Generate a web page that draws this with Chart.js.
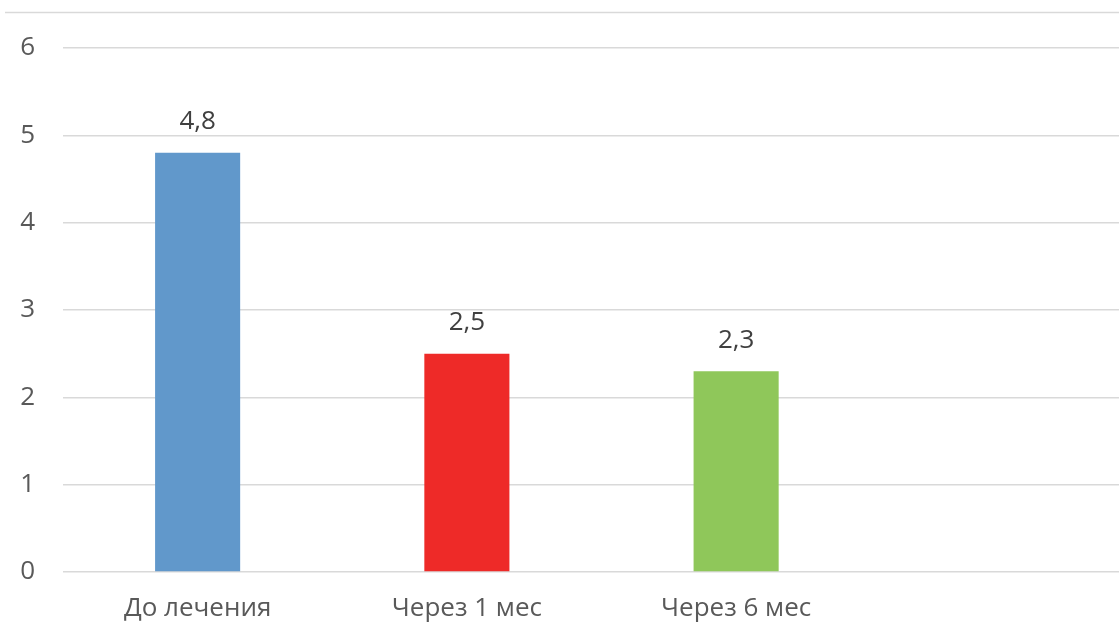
<!DOCTYPE html>
<html>
<head>
<meta charset="utf-8">
<script src="https://cdn.jsdelivr.net/npm/chart.js@4/dist/chart.umd.min.js"></script>
<style>
  html, body { margin: 0; padding: 0; background: #ffffff; overflow: hidden; }
  #wrap { position: relative; width: 1140px; height: 623px; }
</style>
</head>
<body>
<div id="wrap"><canvas id="chart"></canvas></div>
<script>
// Категории и значения
const categories = ['До лечения', 'Через 1 мес', 'Через 6 мес', ''];
const values = [4.8, 2.5, 2.3, null];
const barColors = ['#6198CB', '#EE2A28', '#8FC75A', '#ffffff'];
const yTicks = [0, 1, 2, 3, 4, 5, 6];

const FONT = "'Open Sans', 'Noto Sans', sans-serif";

// Подписи значений над столбцами (с запятой как десятичным разделителем)
const valueLabels = {
  id: 'valueLabels',
  afterDatasetsDraw(chart) {
    const ctx = chart.ctx;
    const meta = chart.getDatasetMeta(0);
    ctx.save();
    ctx.fillStyle = '#404040';
    ctx.font = '26px ' + FONT;
    ctx.textAlign = 'center';
    ctx.textBaseline = 'middle';
    meta.data.forEach((bar, i) => {
      const v = values[i];
      if (v === null || v === undefined) return;
      ctx.fillText(String(v).replace('.', ','), bar.x, bar.y - 31);
    });
    ctx.restore();
  }
};

// Верхняя рамка области диаграммы
const topFrame = {
  id: 'topFrame',
  beforeDraw(chart) {
    const ctx = chart.ctx;
    ctx.save();
    ctx.strokeStyle = '#d9d9d9';
    ctx.lineWidth = 1.5;
    ctx.beginPath();
    ctx.moveTo(5, 12.5);
    ctx.lineTo(chart.width, 12.5);
    ctx.stroke();
    ctx.restore();
  }
};

new Chart(document.getElementById('chart'), {
  type: 'bar',
  data: {
    labels: categories,
    datasets: [{
      data: values,
      backgroundColor: barColors,
      borderWidth: 0,
      categoryPercentage: 1,
      barPercentage: 0.316
    }]
  },
  options: {
    responsive: true,
    maintainAspectRatio: false,
    animation: false,
    layout: { padding: { top: 48, right: 0, bottom: 0, left: 0 } },
    plugins: {
      legend: { display: false },
      tooltip: { enabled: false }
    },
    scales: {
      x: {
        grid: { display: false, drawTicks: false },
        border: { display: false },
        ticks: {
          color: '#595959',
          font: { family: FONT, size: 26 },
          padding: 21,
          maxRotation: 0
        },
        afterFit(scale) { scale.height = 51; }
      },
      y: {
        min: 0,
        max: 6,
        afterBuildTicks(scale) { scale.ticks = yTicks.map(v => ({ value: v })); },
        grid: { color: '#d9d9d9', lineWidth: 1.5, drawTicks: false },
        border: { display: false },
        ticks: {
          color: '#595959',
          font: { family: FONT, size: 26 },
          padding: 28
        },
        afterFit(scale) { scale.width = 63; }
      }
    }
  },
  plugins: [valueLabels, topFrame]
});
</script>
</body>
</html>
